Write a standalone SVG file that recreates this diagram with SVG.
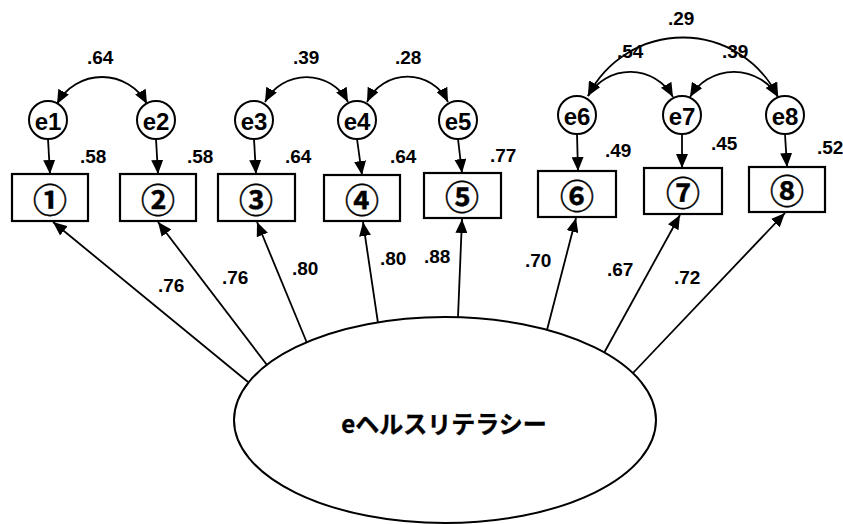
<svg xmlns="http://www.w3.org/2000/svg" width="843" height="524" viewBox="0 0 843 524">
  <style>
    .box { fill: #fff; stroke: #000; stroke-width: 2.2; }
    .err { fill: #fff; stroke: #000; stroke-width: 2; }
    .lat { fill: #fff; stroke: #000; stroke-width: 2; }
    .ln { fill: none; stroke: #000; stroke-width: 1.8; marker-end: url(#ah); }
    .cov { fill: none; stroke: #000; stroke-width: 1.8; marker-start: url(#ahs); marker-end: url(#ah); }
    .num { font-family: "Liberation Sans", Arial, sans-serif; font-weight: bold; font-size: 19px; fill: #000; }
    .elab { font-family: "Liberation Sans", Arial, sans-serif; font-weight: bold; font-size: 24px; fill: #000; text-anchor: middle; dominant-baseline: central; }
    .item { font-family: "Noto Sans CJK JP", "DejaVu Sans", sans-serif; font-weight: bold; font-size: 34px; fill: #000; stroke: #000; stroke-width: 0.4; text-anchor: middle; dominant-baseline: central; }
    .title { font-family: "Noto Sans CJK JP", sans-serif; font-weight: bold; font-size: 24px; fill: #000; stroke: #000; stroke-width: 0.4; text-anchor: middle; dominant-baseline: central; }
  </style>
  <defs>
    <marker id="ah" markerUnits="userSpaceOnUse" markerWidth="14" markerHeight="12" refX="14" refY="6" orient="auto">
      <path d="M0,0 L14,6 L0,12 z" fill="#000"/>
    </marker>
    <marker id="ahs" markerUnits="userSpaceOnUse" markerWidth="14" markerHeight="12" refX="0" refY="6" orient="auto">
      <path d="M14,0 L0,6 L14,12 z" fill="#000"/>
    </marker>
  </defs>

  <!-- connectors -->
  <g id="connectors">
    <!-- error terms to observed items -->
    <line class="ln" x1="48" y1="139" x2="50" y2="174"/>
    <line class="ln" x1="156" y1="139" x2="158" y2="174"/>
    <line class="ln" x1="254" y1="139" x2="256" y2="174"/>
    <line class="ln" x1="357" y1="139" x2="362" y2="175"/>
    <line class="ln" x1="458" y1="139" x2="462" y2="173"/>
    <line class="ln" x1="577" y1="134" x2="578" y2="171"/>
    <line class="ln" x1="682" y1="134" x2="682" y2="168"/>
    <line class="ln" x1="785" y1="134" x2="787" y2="167"/>

    <!-- covariances between error terms -->
    <path class="cov" d="M57,104 A51,51 0 0,1 147,104"/>
    <path class="cov" d="M265,102 A47,47 0 0,1 348,102"/>
    <path class="cov" d="M367,102 A45,45 0 0,1 448,102"/>
    <path class="cov" d="M588,96 A106,106 0 0,1 778,97"/>
    <path class="cov" d="M588,96 A49,49 0 0,1 673,97"/>
    <path class="cov" d="M690,97 A51,51 0 0,1 778,97"/>

    <!-- factor loadings -->
    <line class="ln" x1="248" y1="382" x2="53" y2="222"/>
    <line class="ln" x1="267" y1="365" x2="158" y2="222"/>
    <line class="ln" x1="307" y1="343" x2="257" y2="222"/>
    <line class="ln" x1="378" y1="323" x2="363" y2="222"/>
    <line class="ln" x1="458" y1="317" x2="462" y2="219"/>
    <line class="ln" x1="547" y1="330" x2="576" y2="218"/>
    <line class="ln" x1="604" y1="353" x2="680" y2="215"/>
    <line class="ln" x1="633" y1="373" x2="785" y2="213"/>
  </g>

  <!-- coefficient labels -->
  <g id="coefficients" class="num">
    <text x="87" y="64">.64</text>
    <text x="293" y="64">.39</text>
    <text x="395" y="64">.28</text>
    <text x="668" y="25">.29</text>
    <text x="617" y="58">.54</text>
    <text x="722" y="58">.39</text>

    <text x="80" y="163">.58</text>
    <text x="187" y="163">.58</text>
    <text x="285" y="163">.64</text>
    <text x="390" y="163">.64</text>
    <text x="490" y="162">.77</text>
    <text x="605" y="157">.49</text>
    <text x="711" y="150">.45</text>
    <text x="817" y="154">.52</text>

    <text x="158" y="292">.76</text>
    <text x="222" y="284">.76</text>
    <text x="292" y="275">.80</text>
    <text x="380" y="265">.80</text>
    <text x="424" y="263">.88</text>
    <text x="525" y="267">.70</text>
    <text x="607" y="276">.67</text>
    <text x="674" y="284">.72</text>
  </g>

  <!-- error terms -->
  <g id="e1"><circle class="err" cx="48" cy="120" r="19"/><text class="elab" x="48" y="121">e1</text></g>
  <g id="e2"><circle class="err" cx="156" cy="120" r="19"/><text class="elab" x="156" y="121">e2</text></g>
  <g id="e3"><circle class="err" cx="254" cy="120" r="19"/><text class="elab" x="254" y="121">e3</text></g>
  <g id="e4"><circle class="err" cx="357" cy="120" r="19"/><text class="elab" x="357" y="121">e4</text></g>
  <g id="e5"><circle class="err" cx="458" cy="120" r="19"/><text class="elab" x="458" y="121">e5</text></g>
  <g id="e6"><circle class="err" cx="577" cy="115" r="19"/><text class="elab" x="577" y="116">e6</text></g>
  <g id="e7"><circle class="err" cx="682" cy="115" r="19"/><text class="elab" x="682" y="116">e7</text></g>
  <g id="e8"><circle class="err" cx="785" cy="115" r="19"/><text class="elab" x="785" y="116">e8</text></g>

  <!-- observed items -->
  <g id="item1"><rect class="box" x="12" y="174" width="76" height="47"/><text class="item" x="50" y="198">①</text></g>
  <g id="item2"><rect class="box" x="120" y="174" width="76" height="47"/><text class="item" x="158" y="198">②</text></g>
  <g id="item3"><rect class="box" x="218" y="174" width="77" height="47"/><text class="item" x="256" y="198">③</text></g>
  <g id="item4"><rect class="box" x="324" y="175" width="76" height="46"/><text class="item" x="362" y="198">④</text></g>
  <g id="item5"><rect class="box" x="424" y="173" width="77" height="45"/><text class="item" x="462" y="195">⑤</text></g>
  <g id="item6"><rect class="box" x="538" y="171" width="78" height="46"/><text class="item" x="577" y="194">⑥</text></g>
  <g id="item7"><rect class="box" x="644" y="168" width="78" height="46"/><text class="item" x="683" y="191">⑦</text></g>
  <g id="item8"><rect class="box" x="749" y="167" width="76" height="45"/><text class="item" x="787" y="189">⑧</text></g>

  <!-- latent factor -->
  <g id="ehealth">
    <ellipse class="lat" cx="445" cy="420" rx="211" ry="103"/>
    <text class="title" x="444" y="422">eヘルスリテラシー</text>
  </g>
</svg>
